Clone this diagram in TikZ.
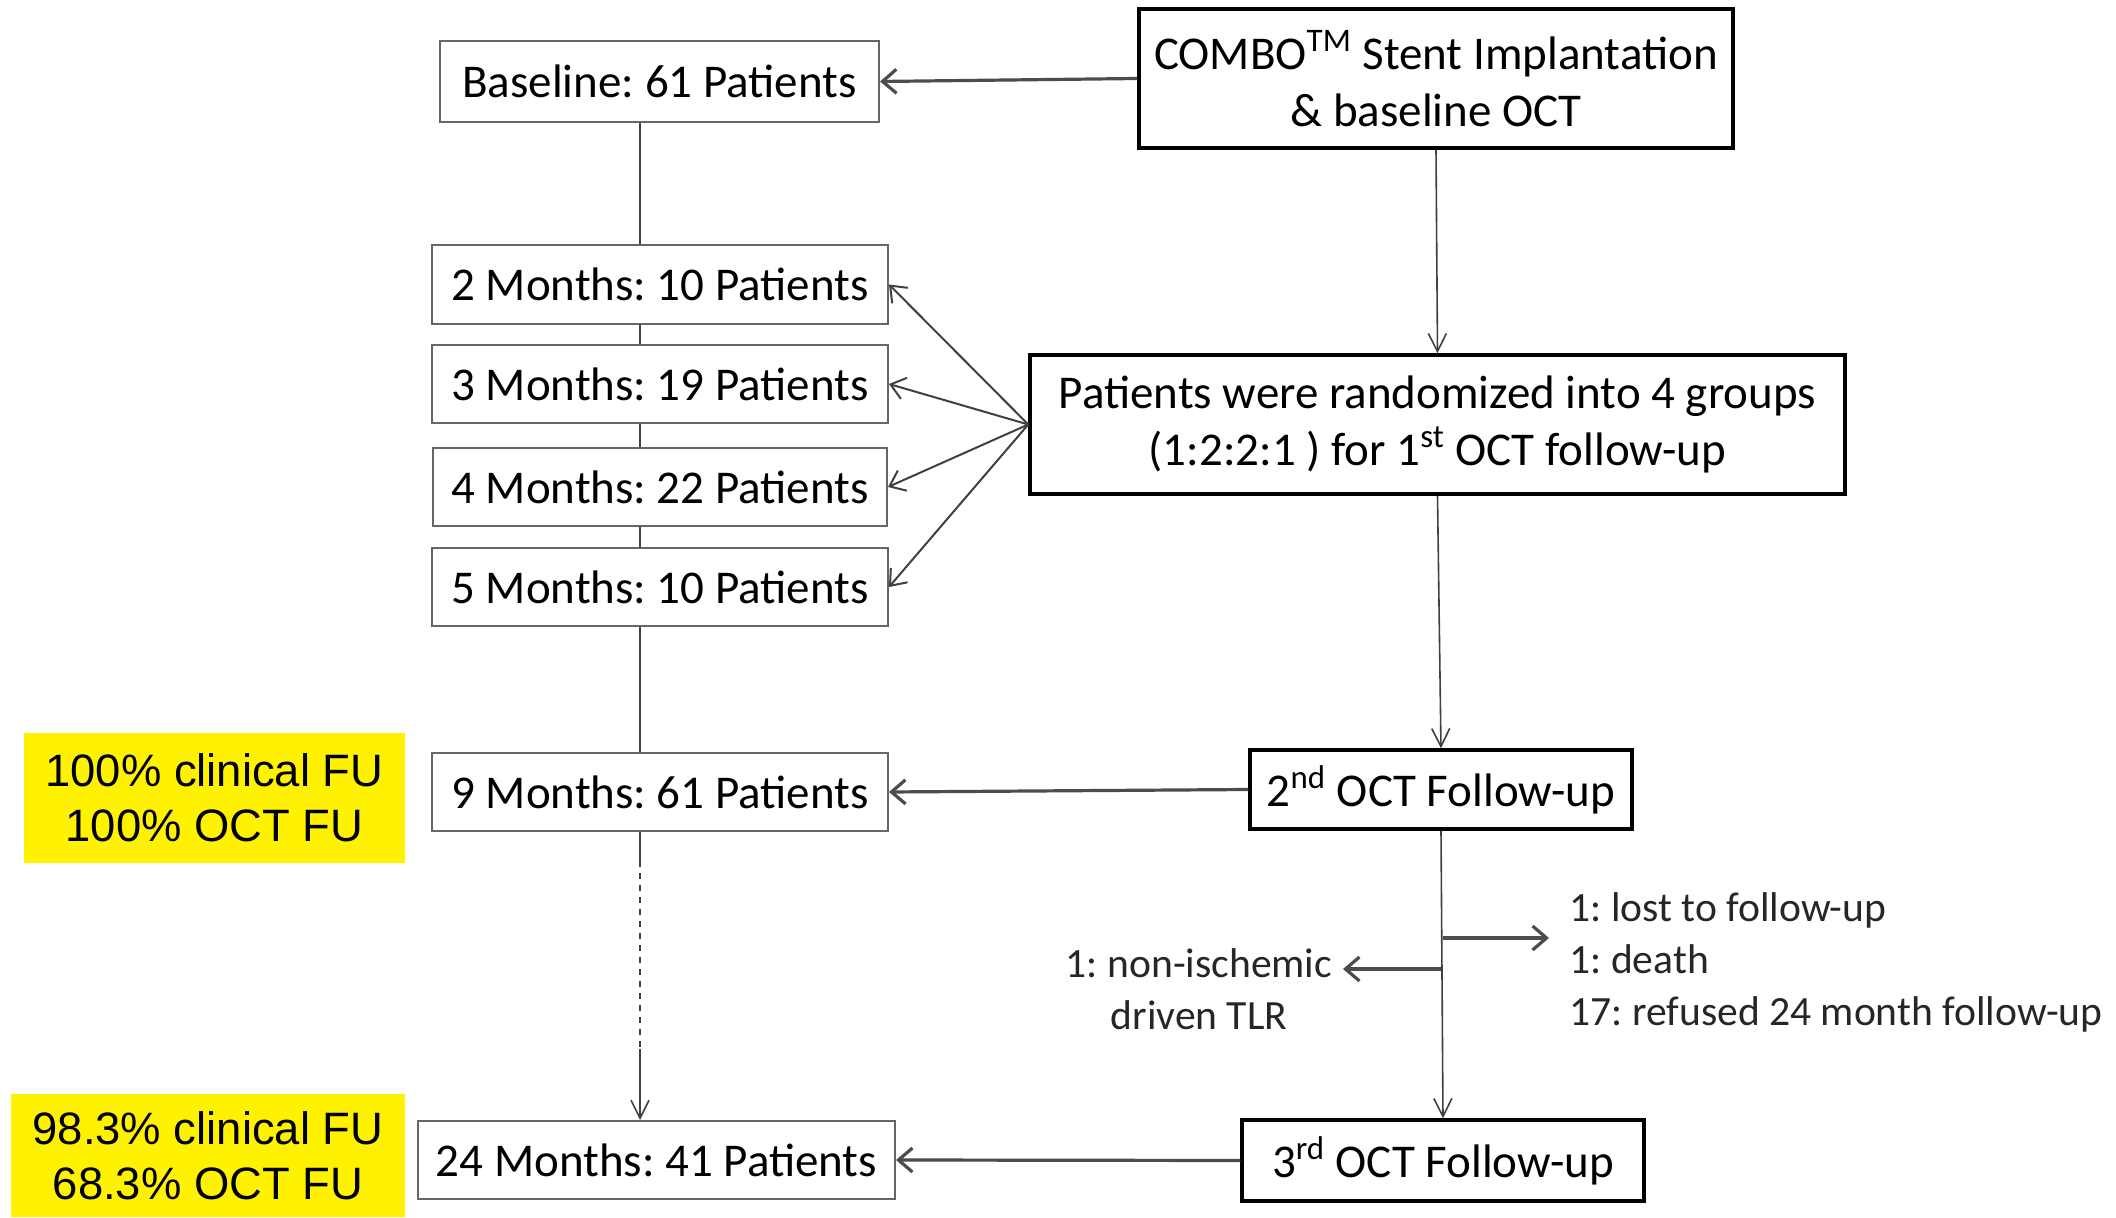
\documentclass[tikz,border=0pt]{standalone}
\usepackage{fontspec}
\setmainfont{Carlito}
\newfontfamily\arialfont{Liberation Sans}
\usetikzlibrary{positioning,arrows.meta}
\frenchspacing

\tikzset{
  monthbox/.style={draw=black!60, line width=1pt, minimum width=228pt, minimum height=39pt,
    inner sep=0pt, font=\fontsize{23.5}{26}\selectfont},
  stagebox/.style={draw, line width=1.75pt, inner sep=0pt, align=center,
    font=\fontsize{23.5}{28.5}\selectfont},
  fubox/.style={fill=yellow, inner sep=0pt, align=center,
    font=\arialfont\fontsize{22.7}{27.5}\selectfont},
  vline/.style={draw=black!75, line width=0.8pt},
  harrow/.style={draw=black!70, line width=1.6pt, -{Straight Barb[length=7pt,width=12pt]}},
  varrow/.style={vline, -{Straight Barb[length=9pt,width=9pt]}},
  farrow/.style={draw=black!75, line width=1pt, -{Straight Barb[length=7pt,width=11pt]}},
  note/.style={font=\fontsize{20.8}{26}\selectfont, text=black!85, inner sep=0pt}
}

\begin{document}
\begin{tikzpicture}[x=0.5pt,y=0.5pt]
  \useasboundingbox (0,0) rectangle (2116,1217);
  \coordinate (spine) at (640,0);

  % left column
  \node[monthbox, minimum width=219.5pt, minimum height=40.5pt](base) at (659.5,1135.5){Baseline: 61 Patients};
  \node[monthbox, minimum height=39.5pt](m2) at (660,932.5){2 Months: 10 Patients};
  \node[monthbox](m3) at (660,833){3 Months: 19 Patients};
  \node[monthbox, minimum width=227pt](m4) at (660,730){4 Months: 22 Patients};
  \node[monthbox](m5) at (660,630){5 Months: 10 Patients};
  \node[monthbox](m9) at (660,425){9 Months: 61 Patients};
  \node[monthbox, minimum width=238.5pt](m24) at (656.5,57){24 Months: 41 Patients};

  % right column
  \node[stagebox, minimum width=297pt, minimum height=69.5pt](combo) at (1436,1138.5)
    {COMBO\textsuperscript{TM} Stent Implantation\\ \& baseline OCT};
  \node[stagebox, minimum width=407.5pt, minimum height=69.5pt](rand) at (1437.5,792.5)
    {Patients were randomized into 4 groups\\ (1:2:2:1 ) for 1\textsuperscript{st} OCT follow-up};
  \node[stagebox, minimum width=191pt, minimum height=39.5pt](oct2) at (1441,427.5)
    {2\textsuperscript{nd} OCT Follow-up};
  \node[stagebox, minimum width=201pt, minimum height=40.5pt](oct3) at (1443,56.5)
    {3\textsuperscript{rd} OCT Follow-up};

  % yellow notes
  \node[fubox, minimum width=190.5pt, minimum height=65pt](fu9) at (214.5,419)
    {100\% clinical FU\\100\% OCT FU};
  \node[fubox, minimum width=197pt, minimum height=61.5pt](fu24) at (208,61.5)
    {98.3\% clinical FU\\68.3\% OCT FU};

  % dropouts
  \coordinate (rb) at (1443,279);
  \coordinate (lb) at (1441,248);
  \node[note, align=left, anchor=west](out) at (1569,255)
    {1: lost to follow-up\\1: death\\17: refused 24 month follow-up};
  \node[note, align=center](tlr) at (1199,228){1: non-ischemic\\driven TLR};

  % spine
  \path[vline] (base.south -| spine) edge (m2.north -| spine)
               (m2.south -| spine) edge (m3.north -| spine)
               (m3.south -| spine) edge (m4.north -| spine)
               (m4.south -| spine) edge (m5.north -| spine)
               (m5.south -| spine) edge (m9.north -| spine);
  \coordinate (d1) at (640,356);
  \coordinate (d2) at (640,168);
  \draw[vline] (m9.south -| spine) -- (d1);
  \draw[vline, dashed] (d1) -- (d2);
  \draw[varrow] (d2) -- (m24.north -| spine);

  % flow
  \draw[harrow] (combo.west) -- (base.east);
  \draw[varrow] (combo.south) -- (rand.north);
  \draw[varrow] (rand.south) -- (oct2.north);
  \draw[varrow] (oct2.south) -- (oct3.north);
  \draw[harrow] (oct2.west) -- (m9.east);
  \draw[harrow] (oct3.west) -- (m24.east);
  \foreach \m in {m2,m3,m4,m5}
    \draw[farrow] (rand.west) -- (\m.east);
  \draw[harrow] (rb) -- (1549,279);
  \draw[harrow] (lb) -- (1343,248);
\end{tikzpicture}
\end{document}
